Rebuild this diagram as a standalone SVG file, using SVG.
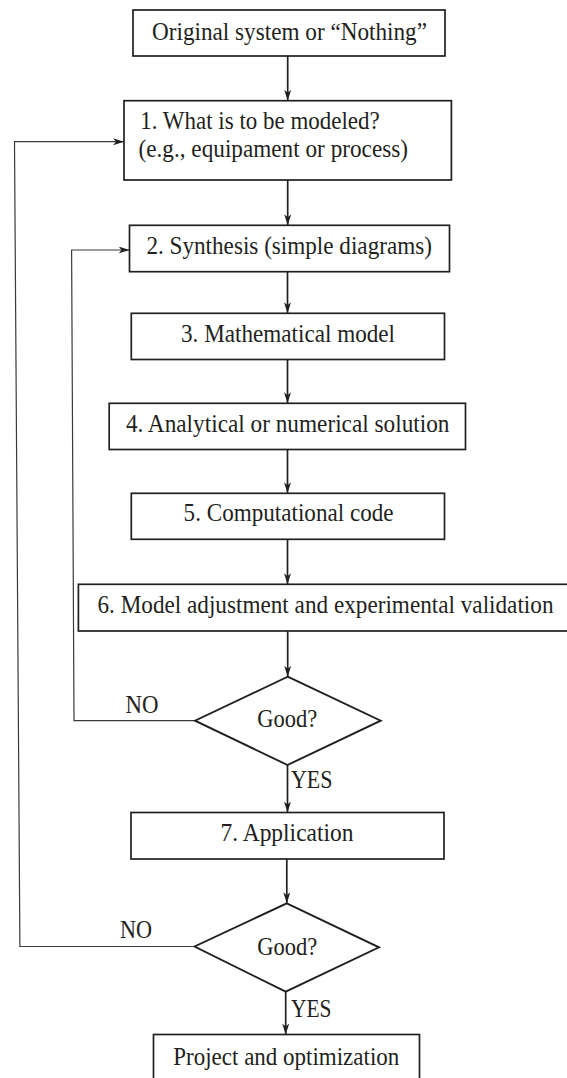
<svg xmlns="http://www.w3.org/2000/svg" width="567" height="1078" viewBox="0 0 567 1078">
<style>
.box{fill:#fff;stroke:#231f20;stroke-width:1.7}
.dia{fill:#fff;stroke:#231f20;stroke-width:1.9}
.t{font-family:"Liberation Serif","Times New Roman",serif;font-size:24.5px;fill:#231f20}
.m{text-anchor:middle}
.c{fill:none;stroke:#231f20;stroke-width:1.7}
.loop{fill:none;stroke:#3a3a3a;stroke-width:1.2}
</style>
<defs>
<marker id="ah" markerUnits="userSpaceOnUse" markerWidth="12" markerHeight="8" refX="11" refY="3.5" orient="auto">
<path d="M0,0 L11,3.5 L0,7 L3,3.5 z" fill="#231f20"/>
</marker>
</defs>
<rect width="567" height="1078" fill="#fff"/>
<g id="connectors">
<line class="c" x1="287.7" y1="56" x2="287.7" y2="100.7" marker-end="url(#ah)"/>
<line class="c" x1="287.7" y1="180" x2="287.7" y2="225.3" marker-end="url(#ah)"/>
<line class="c" x1="287.5" y1="271.7" x2="287.5" y2="313.3" marker-end="url(#ah)"/>
<line class="c" x1="287.5" y1="359.5" x2="287.5" y2="403.3" marker-end="url(#ah)"/>
<line class="c" x1="287.5" y1="449.5" x2="287.5" y2="493.3" marker-end="url(#ah)"/>
<line class="c" x1="287.5" y1="539.3" x2="287.5" y2="584.3" marker-end="url(#ah)"/>
<line class="c" x1="287.7" y1="631" x2="287.7" y2="676.7" marker-end="url(#ah)"/>
<line class="c" x1="287.5" y1="765" x2="287.5" y2="812.5" marker-end="url(#ah)"/>
<line class="c" x1="286.8" y1="859" x2="286.8" y2="903.3" marker-end="url(#ah)"/>
<line class="c" x1="285.7" y1="991.7" x2="285.7" y2="1034.5" marker-end="url(#ah)"/>
<path class="loop" d="M195,720.7 L74,720.7 L71.6,250 L129.5,250" marker-end="url(#ah)"/>
<path class="loop" d="M194.6,946.5 L19.9,946.5 L14.5,141.7 L124,141.7" marker-end="url(#ah)"/>
<text class="t" x="125.5" y="713.3" textLength="33" lengthAdjust="spacingAndGlyphs">NO</text>
<text class="t" x="291" y="788.3" textLength="41.5" lengthAdjust="spacingAndGlyphs">YES</text>
<text class="t" x="120" y="937.7" textLength="32" lengthAdjust="spacingAndGlyphs">NO</text>
<text class="t" x="291" y="1016.7" textLength="40.5" lengthAdjust="spacingAndGlyphs">YES</text>
</g>
<g id="n0">
<rect class="box" x="133" y="10" width="312" height="46"/>
<text class="t m" x="289.5" y="40" textLength="275" lengthAdjust="spacingAndGlyphs">Original system or “Nothing”</text>
</g>
<g id="n1">
<rect class="box" x="124" y="100.7" width="327.4" height="79.3"/>
<text class="t" x="140.3" y="129.3" textLength="239.4" lengthAdjust="spacingAndGlyphs">1. What is to be modeled?</text>
<text class="t" x="138.5" y="157.3" textLength="269.5" lengthAdjust="spacingAndGlyphs">(e.g., equipament or process)</text>
</g>
<g id="n2">
<rect class="box" x="129.5" y="225.3" width="320" height="46.4"/>
<text class="t m" x="289.2" y="254.3" textLength="285.5" lengthAdjust="spacingAndGlyphs">2. Synthesis (simple diagrams)</text>
</g>
<g id="n3">
<rect class="box" x="131.3" y="313.3" width="313.2" height="46.2"/>
<text class="t m" x="288" y="342" textLength="214" lengthAdjust="spacingAndGlyphs">3. Mathematical model</text>
</g>
<g id="n4">
<rect class="box" x="109.2" y="403.3" width="356.3" height="46.2"/>
<text class="t m" x="287.7" y="432" textLength="323.6" lengthAdjust="spacingAndGlyphs">4. Analytical or numerical solution</text>
</g>
<g id="n5">
<rect class="box" x="131.3" y="493.3" width="313.2" height="46"/>
<text class="t m" x="288.6" y="521" textLength="210" lengthAdjust="spacingAndGlyphs">5. Computational code</text>
</g>
<g id="n6">
<rect class="box" x="78.4" y="584.3" width="490" height="46.7"/>
<text class="t m" x="325.5" y="612.7" textLength="456" lengthAdjust="spacingAndGlyphs">6. Model adjustment and experimental validation</text>
</g>
<g id="d1">
<polygon class="dia" points="287.7,676.7 380.7,720.7 287.5,765 195,720.7"/>
<text class="t m" x="287.2" y="727" textLength="60" lengthAdjust="spacingAndGlyphs">Good?</text>
</g>
<g id="n7">
<rect class="box" x="131" y="812.5" width="313" height="46.5"/>
<text class="t m" x="287" y="841.3" textLength="133" lengthAdjust="spacingAndGlyphs">7. Application</text>
</g>
<g id="d2">
<polygon class="dia" points="286.8,903.3 379,947.3 285.7,991.7 194.6,946.5"/>
<text class="t m" x="287.2" y="955.3" textLength="60" lengthAdjust="spacingAndGlyphs">Good?</text>
</g>
<g id="n8">
<rect class="box" x="153.5" y="1034.5" width="266" height="60"/>
<text class="t m" x="286.3" y="1064.5" textLength="226" lengthAdjust="spacingAndGlyphs">Project and optimization</text>
</g>
</svg>
